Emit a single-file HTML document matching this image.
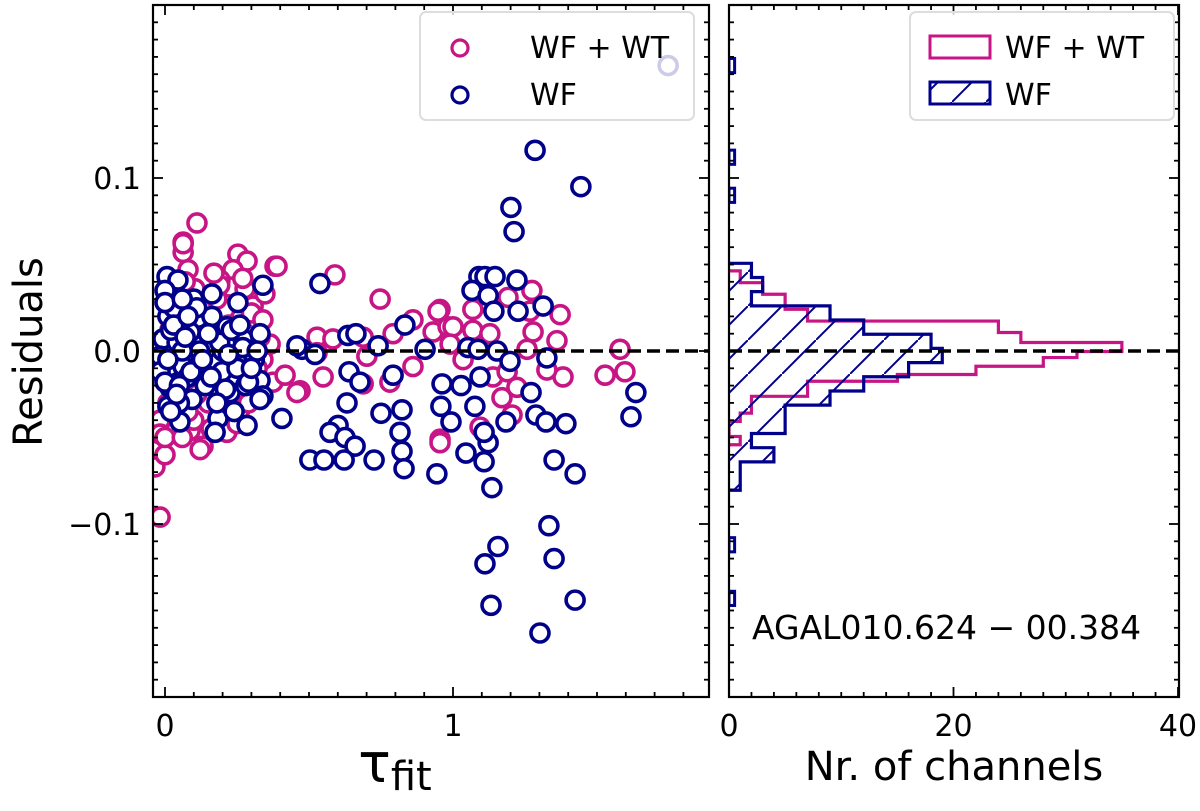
<!DOCTYPE html>
<html><head><meta charset="utf-8"><style>
html,body{margin:0;padding:0;background:#fff;}
svg{display:block;font-family:"DejaVu Sans","Liberation Sans",sans-serif;}
</style></head><body>
<svg id="chart" width="1200" height="811" viewBox="0 0 1200 811" xmlns="http://www.w3.org/2000/svg">
<defs>
<pattern id="hatch" patternUnits="userSpaceOnUse" width="34" height="34">
<line x1="0" y1="34" x2="34" y2="0" stroke="#00008b" stroke-width="2"/>
</pattern>
<clipPath id="clipL"><rect x="153" y="5" width="556" height="692"/></clipPath>
<clipPath id="clipR"><rect x="729" y="5" width="450" height="692"/></clipPath>
</defs>
<g id="left"></g>
<g id="right"></g>
<g id="labels"></g>
</svg>
<script>
// ---- data ----
const wfwtTau = [0.111,0.063,0.063,0.253,0.285,0.382,0.590,0.080,0.236,0.226,0.747,0.955,0.306,0.528,0.688,0.792,0.861,0.931,0.983,0.469,0.549,0.688,0.781,0.861,0.955,0.132,0.215,0.132,0.340,0.375,0.528,0.701,0.583,-0.017,-0.035,-0.035,0.122,0.236,0.215,0.458,0.389,0.063,0.948,1.069,1.000,0.990,1.069,1.128,1.274,1.191,1.372,1.267,1.278,1.361,1.257,1.580,1.528,1.597,1.382,1.326,1.222,1.170,1.205,1.094,0.955,1.035,1.139,1.188,0.052,0.104,0.156,0.208,0.295,0.017,0.035,0.087,0.139,0.260,0.313,0.365,0.417,0.035,0.087,0.174,-0.017,-0.017,0.000,0.191,0.278,0.347,0.122,
 0.07,0.09,0.12,0.18,0.22,0.27,0.30,0.33,0.01,0.04,0.10,0.15,0.25,0.32,0.02,0.05,0.11,0.16,0.21,0.29,0.34,0.00,0.03,0.08,0.13,0.19,0.24,0.28,0.06,0.17];
const wfwtRes = [0.074,0.063,0.057,0.056,0.052,0.049,0.044,0.047,0.047,0.037,0.030,0.024,0.026,0.008,0.008,0.010,0.018,0.011,0.014,-0.023,-0.015,-0.019,-0.018,-0.009,-0.051,-0.055,-0.038,-0.036,-0.005,-0.018,-0.001,-0.003,0.007,-0.096,-0.055,-0.067,-0.057,-0.036,-0.047,-0.024,0.049,0.062,0.023,0.024,0.014,0.004,0.012,0.010,0.035,0.031,0.021,0.023,0.011,0.006,0.001,0.001,-0.014,-0.012,-0.015,-0.011,-0.021,-0.027,-0.037,-0.044,-0.053,-0.005,-0.015,-0.012,0.030,0.036,0.012,0.024,0.018,0.012,-0.040,-0.046,-0.028,-0.034,-0.025,0.004,-0.014,-0.005,-0.017,-0.005,-0.040,-0.048,-0.060,0.041,0.036,0.033,-0.025,
 0.040,0.028,0.020,0.030,0.015,0.042,0.022,0.008,-0.030,-0.045,-0.040,-0.030,-0.042,-0.010,0.002,-0.020,-0.025,-0.045,-0.020,-0.030,0.018,-0.050,0.022,-0.035,0.005,0.038,-0.015,0.010,-0.050,0.045];
const wfTau = [1.285,1.444,1.201,1.212,1.090,1.111,1.146,1.222,1.066,1.122,1.142,1.226,1.313,1.052,1.087,1.153,1.198,1.326,0.962,1.028,1.094,0.958,1.076,1.271,1.288,1.323,1.392,1.635,1.618,0.993,1.045,1.122,1.108,1.184,0.944,1.108,1.351,1.424,1.135,1.333,1.156,1.111,1.351,1.132,1.424,1.302,0.538,0.833,0.635,0.663,0.740,0.476,0.521,0.639,0.677,0.792,0.903,0.632,0.750,0.823,0.601,0.573,0.625,0.660,0.816,0.503,0.552,0.622,0.726,0.823,0.830,0.406,0.007,0.045,0.000,0.163,0.340,0.253,0.010,0.115,0.163,0.215,-0.007,0.271,0.330,0.458,0.149,0.017,0.122,0.260,0.330,0.017,0.226,0.340,0.010,0.094,0.184,0.285,0.052,0.174,0.198,0.063,0.087,0.059,0.042,-0.017,-0.017,0.03,0.08,0.12,0.14,0.28,0.31,0.05,0.02,0.10,0.20,0.24,0.33,0.06,0.0,
 0.01,0.03,0.05,0.07,0.09,0.11,0.13,0.16,0.19,0.21,0.23,0.25,0.27,0.29,0.32,0.00,0.04,0.08,0.15,0.18,0.22,0.26,0.30,0.02,0.06];
const wfRes = [0.116,0.095,0.083,0.069,0.043,0.043,0.043,0.041,0.035,0.032,0.023,0.023,0.026,0.002,0.001,0.000,-0.006,-0.004,-0.019,-0.020,-0.015,-0.032,-0.032,-0.024,-0.037,-0.041,-0.042,-0.024,-0.038,-0.041,-0.059,-0.053,-0.047,-0.041,-0.071,-0.064,-0.063,-0.071,-0.079,-0.101,-0.113,-0.123,-0.120,-0.147,-0.144,-0.163,0.039,0.015,0.009,0.010,0.003,0.001,-0.002,-0.012,-0.018,-0.014,0.001,-0.030,-0.036,-0.034,-0.043,-0.047,-0.050,-0.055,-0.047,-0.063,-0.063,-0.063,-0.063,-0.058,-0.068,-0.039,0.043,0.041,0.035,0.033,0.038,0.028,0.020,0.019,0.020,0.014,0.007,0.007,0.010,0.003,0.002,-0.009,-0.007,-0.008,-0.017,-0.021,-0.024,-0.026,-0.032,-0.028,-0.039,-0.043,-0.041,-0.047,-0.012,-0.009,0.011,0.018,0.005,-0.003,-0.012,0.025,-0.015,0.000,-0.020,-0.020,-0.005,-0.030,0.012,0.030,0.000,-0.035,-0.028,0.000,-0.018,
 -0.005,0.015,-0.020,0.008,-0.012,0.025,-0.005,-0.015,0.005,-0.022,0.012,-0.010,0.002,-0.018,0.000,0.028,-0.025,0.020,0.010,-0.030,-0.002,0.015,-0.010,-0.035,0.030];
const fadedTau = [1.747];
const fadedRes = [0.165];
const wfBinTop = 0.0507;
const wfBinWidth = 0.0082;
const wfCounts = [2,3,2,9,12,18,19,16,12,9,5,5,2,4,1,1];
const wfOutlierRes = [0.165,0.112,0.090,-0.112,-0.143];
const wfOutlierCounts = [0.5,0.5,0.5,0.5,0.5];
const wfwtEdges = [0.0463,0.0395,0.0328,0.0279,0.0241,0.0173,0.0107,0.0049,-0.0003,-0.0038,-0.0088,-0.0136,-0.0175,-0.0262,-0.0359,-0.0407,-0.0494,-0.0542];
const wfwtCounts = [1,3,5,5,7,24,26,35,31,28,22,15,7,2,1,0,1];
const yTicks = [-0.1,0.0,0.1];
const yTickLabels = ["\u22120.1","0.0","0.1"];
const xTicksL = [0,1];
const xTicksR = [0,20,40];

// ---- scales ----
const plotTop=5, plotBot=697;
const yS = v => plotTop + (0.2 - v)/0.4*(plotBot-plotTop);
const xL = t => 165 + t*288;
const xR = c => 729 + c*11.225;
const NS="http://www.w3.org/2000/svg";
function mk(tag, attrs, parent){const e=document.createElementNS(NS,tag);for(const k in attrs)e.setAttribute(k,attrs[k]);parent.appendChild(e);return e;}
const gLeft=document.getElementById('left'), gRight=document.getElementById('right'), gLab=document.getElementById('labels');
const MAG="#c71585", NAV="#00008b";
const RAD=9, SW=3.6;

// ---- scatter ----
const gS=mk('g',{'clip-path':'url(#clipL)'},gLeft);


wfwtTau.forEach((t,i)=>{const c=mk('circle',{cx:xL(t),cy:yS(wfwtRes[i]),r:RAD,fill:'#fff',stroke:MAG,'stroke-width':SW},gS);

});
wfTau.forEach((t,i)=>{const c=mk('circle',{cx:xL(t),cy:yS(wfRes[i]),r:RAD,fill:'#fff',stroke:NAV,'stroke-width':SW},gS);

});
fadedTau.forEach((t,i)=>{const c=mk('circle',{cx:xL(t),cy:yS(fadedRes[i]),r:RAD,fill:'#fff',stroke:NAV,'stroke-width':SW},gS);

});

// ---- histograms ----
const gH=mk('g',{'clip-path':'url(#clipR)'},gRight);


function stepPath(edges,counts){
  let d='M'+xR(0)+','+yS(edges[0]);
  for(let i=0;i<counts.length;i++){d+=' L'+xR(counts[i])+','+yS(edges[i])+' L'+xR(counts[i])+','+yS(edges[i+1]);}
  d+=' L'+xR(0)+','+yS(edges[counts.length]);
  return d;
}
const hw=mk('path',{d:stepPath(wfwtEdges,wfwtCounts),fill:'none',stroke:MAG,'stroke-width':3.2},gH);


const wfEdges=wfCounts.map((c,i)=>wfBinTop-i*wfBinWidth).concat([wfBinTop-wfCounts.length*wfBinWidth]);
const pd=stepPath(wfEdges,wfCounts);
mk('path',{d:pd,fill:'url(#hatch)',stroke:'none'},gH);
const hb=mk('path',{d:pd,fill:'none',stroke:NAV,'stroke-width':3.2},gH);


wfOutlierRes.forEach((v,i)=>{const r=mk('rect',{x:xR(0),y:yS(v+wfBinWidth/2),width:xR(wfOutlierCounts[i])-xR(0),height:yS(0)-yS(wfBinWidth),fill:'none',stroke:NAV,'stroke-width':3},gH);

});

// ---- zero lines ----
[[153,709],[729,1179]].forEach(([a,b])=>{const l=mk('line',{x1:a,x2:b,y1:yS(0),y2:yS(0),stroke:'#000','stroke-width':3.5,'stroke-dasharray':'13,6'},gLab);

});

// ---- frames & ticks ----
function frame(x0,x1,parent,xticks,xmap,xminorStep,xmin,xmax,xlabels){
  mk('rect',{x:x0,y:plotTop,width:x1-x0,height:plotBot-plotTop,fill:'none',stroke:'#000','stroke-width':2.2},parent);
  for(let k=-20;k<=20;k++){const v=k/100;const y=yS(v);const major=(k%10===0);const len=major?10:5;
    mk('line',{x1:x0,x2:x0+len,y1:y,y2:y,stroke:'#000','stroke-width':1.8},parent);
    mk('line',{x1:x1,x2:x1-len,y1:y,y2:y,stroke:'#000','stroke-width':1.8},parent);}
  const n=Math.round((xmax-xmin)/xminorStep);
  for(let k=0;k<=n;k++){const v=xmin+k*xminorStep;const x=xmap(v);const major=xticks.some(t=>Math.abs(t-v)<1e-6);const len=major?10:5;
    mk('line',{x1:x,x2:x,y1:plotBot,y2:plotBot-len,stroke:'#000','stroke-width':1.8},parent);
    mk('line',{x1:x,x2:x,y1:plotTop,y2:plotTop+len,stroke:'#000','stroke-width':1.8},parent);}
  xticks.forEach((t,i)=>{const tx=mk('text',{x:xmap(t),y:736,'font-size':30,'text-anchor':'middle'},parent);tx.textContent=xlabels[i];
    
    });
}
frame(153,709,gLab,xTicksL,xL,0.1,0,1.8,["0","1"]);
frame(729,1179,gLab,xTicksR,xR,2,0,40,["0","20","40"]);
yTicks.forEach((v,i)=>{const t=mk('text',{x:141,y:yS(v)+11,'font-size':30,'text-anchor':'end'},gLab);t.textContent=yTickLabels[i];

});

const extra=`
<g>
<rect x="420" y="12" width="274" height="108" rx="6" fill="rgba(255,255,255,0.8)" stroke="#ddd" stroke-width="2"/>
<circle cx="460" cy="48" r="8" fill="#fff" stroke="#c71585" stroke-width="3.2"/>
<text x="530" y="58" font-size="30">WF + WT</text>
<circle cx="460" cy="95" r="8" fill="#fff" stroke="#00008b" stroke-width="3.2"/>
<text x="530" y="105" font-size="30">WF</text>
</g>
<g>
<rect x="910" y="12" width="264" height="108" rx="6" fill="rgba(255,255,255,0.8)" stroke="#ddd" stroke-width="2"/>
<rect x="930" y="36" width="60" height="22" fill="none" stroke="#c71585" stroke-width="3"/>
<text x="1005" y="58" font-size="30">WF + WT</text>
<rect x="930" y="82" width="60" height="22" fill="url(#hatch)" stroke="#00008b" stroke-width="3"/>
<text x="1005" y="105" font-size="30">WF</text>
</g>
<text x="752" y="639" font-size="33">AGAL010.624 − 00.384</text>
<text transform="translate(42,352) rotate(-90)" font-size="40" text-anchor="middle">Residuals</text>
<text x="395" y="782" font-size="54" text-anchor="middle">τ<tspan font-size="40" dy="8">fit</tspan></text>
<text x="954" y="780" font-size="40" text-anchor="middle">Nr.  of channels</text>`;
document.getElementById('chart').insertAdjacentHTML('beforeend',extra);
</script>
</body></html>
